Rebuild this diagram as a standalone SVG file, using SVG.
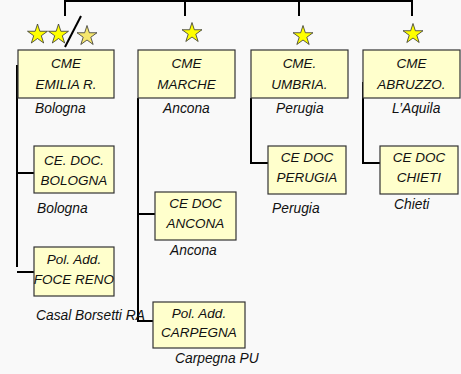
<svg xmlns="http://www.w3.org/2000/svg" width="461" height="374" viewBox="0 0 461 374">
<defs>
<style>
.box{fill:#ffffcc;stroke:#333;stroke-width:1.2}
.t{font-family:"Liberation Sans",Arial,sans-serif;font-style:italic;font-size:13.5px;fill:#111;text-anchor:middle}
.s{font-family:"Liberation Sans",Arial,sans-serif;font-style:italic;font-size:13.8px;fill:#111}
.ln{fill:none;stroke:#000;stroke-width:2}
.star{fill:#ffff00;stroke:#333;stroke-width:0.8}
.star2{fill:#f5e66e;stroke:#333;stroke-width:0.8}
</style>
<path id="st" d="M0,-10.5 L2.35,-3.24 L9.99,-3.24 L3.8,1.24 L6.17,8.49 L0,4 L-6.17,8.49 L-3.8,1.24 L-9.99,-3.24 L-2.35,-3.24 Z"/>
</defs>
<rect x="0" y="0" width="461" height="374" fill="#f9f9f9"/>
<g id="connectors">
<path class="ln" d="M65,16 V1 H412 V16 M185,1 V16 M299,1 V16"/>
<path class="ln" d="M17,65 V267 M17,272 H34 M17,173 H34"/>
<path class="ln" d="M138,98 V321 H154 M138,214 H155"/>
<path class="ln" d="M251,98 V163 H268"/>
<path class="ln" d="M363,82 V163 H380"/>
<path class="ln" d="M65,47 L81,16"/>
</g>
<g id="stars">
<use href="#st" class="star" x="37.5" y="34.5"/>
<use href="#st" class="star" x="58.5" y="34.5"/>
<use href="#st" class="star2" x="87" y="36"/>
<use href="#st" class="star" x="192" y="33"/>
<use href="#st" class="star" x="303" y="36"/>
<use href="#st" class="star" x="413" y="34"/>
</g>
<g id="cme-emilia">
<rect class="box" x="18" y="50" width="96" height="48"/>
<text class="t" x="66" y="68">CME</text>
<text class="t" x="66" y="89">EMILIA R.</text>
<text class="s" x="35" y="113">Bologna</text>
</g>
<g id="cme-marche">
<rect class="box" x="138" y="50" width="97" height="48"/>
<text class="t" x="186.5" y="68">CME</text>
<text class="t" x="186.5" y="89">MARCHE</text>
<text class="s" x="163" y="113">Ancona</text>
</g>
<g id="cme-umbria">
<rect class="box" x="251" y="50" width="97" height="48"/>
<text class="t" x="299.5" y="68">CME.</text>
<text class="t" x="299.5" y="89">UMBRIA.</text>
<text class="s" x="276" y="113">Perugia</text>
</g>
<g id="cme-abruzzo">
<rect class="box" x="363" y="50" width="97" height="48"/>
<text class="t" x="411.5" y="68">CME</text>
<text class="t" x="411.5" y="89">ABRUZZO.</text>
<text class="s" x="392" y="113">L’Aquila</text>
</g>
<g id="ce-doc-bologna">
<rect class="box" x="34" y="146" width="80" height="47"/>
<text class="t" x="74" y="165">CE. DOC.</text>
<text class="t" x="74" y="185">BOLOGNA</text>
<text class="s" x="37" y="213">Bologna</text>
</g>
<g id="pol-foce-reno">
<rect class="box" x="34" y="247" width="80" height="49"/>
<text class="t" x="74" y="264">Pol. Add.</text>
<text class="t" x="74" y="284">FOCE RENO</text>
<text class="s" x="36" y="320">Casal Borsetti RA</text>
</g>
<g id="ce-doc-ancona">
<rect class="box" x="155" y="192" width="81" height="48"/>
<text class="t" x="195.5" y="208">CE DOC</text>
<text class="t" x="195.5" y="228">ANCONA</text>
<text class="s" x="170" y="255">Ancona</text>
</g>
<g id="pol-carpegna">
<rect class="box" x="153" y="302" width="92" height="46"/>
<text class="t" x="199" y="318">Pol. Add.</text>
<text class="t" x="199" y="337">CARPEGNA</text>
<text class="s" x="175" y="363">Carpegna PU</text>
</g>
<g id="ce-doc-perugia">
<rect class="box" x="268" y="146" width="78" height="48"/>
<text class="t" x="307" y="162">CE DOC</text>
<text class="t" x="307" y="182">PERUGIA</text>
<text class="s" x="272" y="213">Perugia</text>
</g>
<g id="ce-doc-chieti">
<rect class="box" x="380" y="146" width="78" height="48"/>
<text class="t" x="419" y="162">CE DOC</text>
<text class="t" x="419" y="182">CHIETI</text>
<text class="s" x="394" y="209">Chieti</text>
</g>
</svg>
